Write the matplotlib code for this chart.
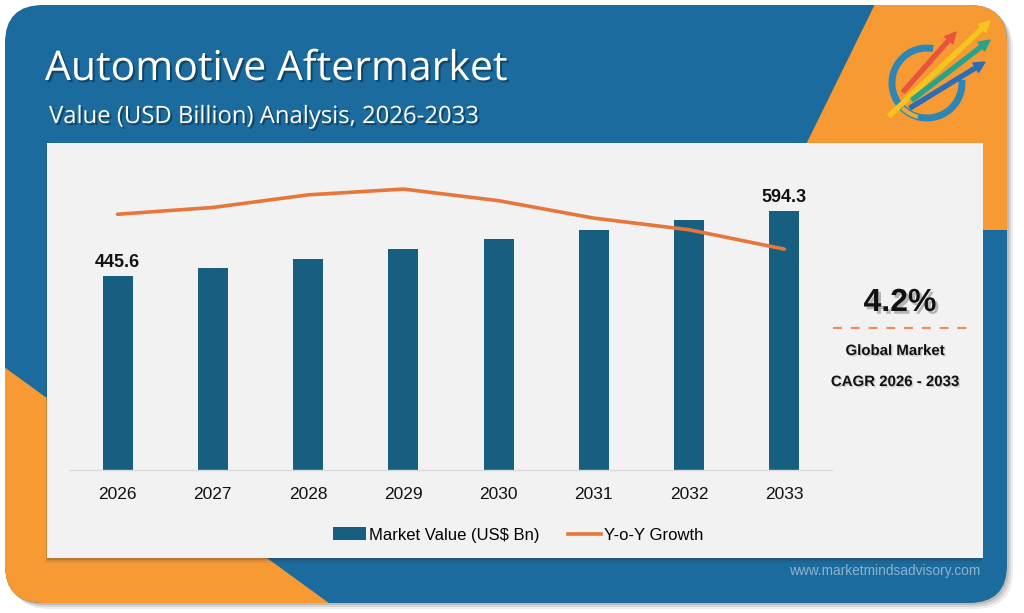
import matplotlib
matplotlib.use("Agg")
import matplotlib.pyplot as plt
import matplotlib.patches as mpatches
import matplotlib.patheffects as pe
from matplotlib.lines import Line2D
import numpy as np

# ---------------- data ----------------
years = ["2026", "2027", "2028", "2029", "2030", "2031", "2032", "2033"]
market_value = [445.6, 464.5, 484.5, 507.0, 530.5, 552.0, 574.0, 594.3]
yoy_growth = [4.32, 4.355, 4.42, 4.45, 4.39, 4.30, 4.24, 4.14]
shown_labels = {0: "445.6", 7: "594.3"}
cagr_text = "4.2%"
title = "Automotive Aftermarket"
subtitle = "Value (USD Billion) Analysis, 2026-2033"

BLUE = "#1B6B9E"
ORANGE = "#F89A33"
BAR = "#175F80"
LINE = "#E8763A"
PANEL = "#F2F2F2"
FONT = ["Liberation Sans", "DejaVu Sans"]

W, H = 1024, 613
fig = plt.figure(figsize=(W / 100, H / 100), dpi=100)
fig.patch.set_facecolor("white")

bg = fig.add_axes([0, 0, 1, 1])
bg.set_xlim(0, W)
bg.set_ylim(H, 0)
bg.axis("off")

# card shadow
for off, a in [(6, 0.10), (4, 0.15), (2, 0.2)]:
    sh = mpatches.FancyBboxPatch((5 + off, 5 + off), 1002, 598, boxstyle="round,pad=0,rounding_size=38",
                                 facecolor="#555555", edgecolor="none", alpha=a, zorder=0)
    bg.add_patch(sh)

card = mpatches.FancyBboxPatch((5, 5), 1002, 598, boxstyle="round,pad=0,rounding_size=38",
                               facecolor=BLUE, edgecolor="none", zorder=1)
bg.add_patch(card)

tr = mpatches.Polygon([(877, 0), (1015, 0), (1015, 230), (764, 230)], closed=True,
                      facecolor=ORANGE, edgecolor="none", zorder=2)
bg.add_patch(tr)
tr.set_clip_path(card)
bl = mpatches.Polygon([(0, 364), (333, 606), (0, 606)], closed=True,
                      facecolor=ORANGE, edgecolor="none", zorder=2)
bg.add_patch(bl)
bl.set_clip_path(card)

# panel shadow + panel
for off, a in [(5, 0.08), (3, 0.12), (1.5, 0.15)]:
    bg.add_patch(mpatches.Rectangle((47 - off * 0.3, 143 + off), 936, 415, facecolor="#333333",
                                    edgecolor="none", alpha=a, zorder=3))
bg.add_patch(mpatches.Rectangle((47, 143), 936, 415, facecolor=PANEL, edgecolor="none", zorder=4))

shadow_fx = [pe.SimplePatchShadow(offset=(1.5, -1.5), shadow_rgbFace="black", alpha=0.35), pe.Normal()]
soft_fx = [pe.SimplePatchShadow(offset=(1, -1), shadow_rgbFace="black", alpha=0.15), pe.Normal()]
bg.text(45, 80, title, color="white", fontsize=29.5, family=["Open Sans", "DejaVu Sans"],
        va="baseline", ha="left", zorder=5, path_effects=shadow_fx)
bg.text(49, 123, subtitle, color="white", fontsize=17.2, family=["Open Sans", "DejaVu Sans"],
        va="baseline", ha="left", zorder=5, path_effects=shadow_fx)

# logo
logo_c = (927, 83)
bg.add_patch(mpatches.Arc(logo_c, 70, 70, theta1=-5, theta2=280, color="#2E86B5", lw=5, zorder=5))
bg.add_patch(mpatches.Arc(logo_c, 70, 70, theta1=105, theta2=135, color="#E8A93A", lw=3, zorder=5))
arrows = [((903, 92), (956, 32), "#E8553D", 4), ((889, 116), (990, 21), "#F4C51E", 4),
          ((912, 100), (990, 40), "#26A48C", 4), ((910, 108), (985, 62), "#2A6EB5", 4)]
for (x0, y0), (x1, y1), c, w in arrows:
    bg.add_patch(mpatches.FancyArrow(x0, y0, x1 - x0, y1 - y0, width=w, head_width=11, head_length=11,
                                     length_includes_head=True, color=c, zorder=6))

# right side CAGR box
big_fx = [pe.SimplePatchShadow(offset=(2, -2), shadow_rgbFace="black", alpha=0.25), pe.Normal()]
bg.text(900, 311, cagr_text, fontsize=23, fontweight="bold", family=FONT, ha="center",
        va="baseline", color="#111111", zorder=6, path_effects=big_fx)
bg.plot([833, 968], [328, 328], color="#EE8E55", lw=1.6, dashes=(4, 4), zorder=6)
bg.text(895, 355, "Global Market", fontsize=10.8, fontweight="bold", family=FONT, ha="center",
        va="baseline", color="#111111", zorder=6, path_effects=soft_fx)
bg.text(895, 386, "CAGR 2026 - 2033", fontsize=10.8, fontweight="bold", family=FONT, ha="center",
        va="baseline", color="#111111", zorder=6, path_effects=soft_fx)

bg.text(980, 575, "www.marketmindsadvisory.com", fontsize=9.9, family=FONT, ha="right",
        va="baseline", color="#8DB3CF", zorder=6)

# ---------------- chart ----------------
ax_l, ax_r, ax_b, ax_t = 70, 832, 470, 160
ax = fig.add_axes([ax_l / W, 1 - ax_b / H, (ax_r - ax_l) / W, (ax_b - ax_t) / H])
ax.set_facecolor("none")
x = np.arange(len(years))
ax.bar(x, market_value, width=0.315, color=BAR, zorder=2)
ax.set_xlim(-0.5, len(years) - 0.5)
ax.set_ylim(0, 712)
for i, lab in shown_labels.items():
    ax.text(x[i], market_value[i] + 12, lab, ha="center", va="bottom", fontsize=13,
            fontweight="bold", family=FONT, color="#111111")
for s in ["top", "left", "right"]:
    ax.spines[s].set_visible(False)
ax.spines["bottom"].set_color("#D9D9D9")
ax.spines["bottom"].set_linewidth(1)
ax.set_yticks([])
ax.set_xticks(x)
ax.set_xticklabels(years, fontsize=12.5, family=FONT, color="#111111")
ax.tick_params(axis="x", length=0, pad=12)

ax2 = ax.twinx()
ax2.plot(x, yoy_growth, color=LINE, lw=2.6, solid_capstyle="round", zorder=3)
ax2.set_ylim(3.0, 4.6)
ax2.axis("off")

handles = [mpatches.Patch(facecolor=BAR, edgecolor="none"),
           Line2D([0], [0], color=LINE, lw=2.6)]
leg = fig.legend(handles, ["Market Value (US$ Bn)", "Y-o-Y Growth"], loc="center",
                 bbox_to_anchor=(518 / W, 1 - 535 / H), ncol=2, frameon=False,
                 prop={"family": FONT, "size": 12}, handlelength=2.0, handletextpad=0.15,
                 columnspacing=1.7, handleheight=0.8)

fig.savefig("out.png", dpi=100, facecolor="white")
